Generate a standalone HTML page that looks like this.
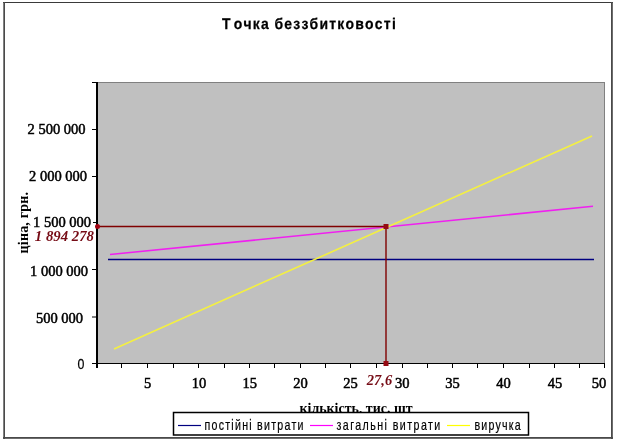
<!DOCTYPE html>
<html><head><meta charset="utf-8">
<style>
html,body{margin:0;padding:0;background:#fff;width:619px;height:443px;overflow:hidden}
svg{display:block;filter:blur(0.3px)}
.ser{font-family:"Liberation Serif",serif;font-weight:bold;font-size:14px;fill:#000}
.num{font-family:"Liberation Serif",serif;font-size:14.5px;fill:#000;stroke:#000;stroke-width:0.5}
.red{font-family:"Liberation Serif",serif;font-weight:bold;font-style:italic;font-size:14.5px;fill:#760c16}
.san{font-family:"Liberation Sans",sans-serif;font-size:14px;fill:#000;stroke:#000;stroke-width:0.2}
</style></head><body>
<svg width="619" height="443" viewBox="0 0 619 443">
<!-- frame -->
<rect x="3" y="2" width="610" height="1" fill="#3a3a3a"/>
<rect x="3.3" y="2" width="1.7" height="437" fill="#4a4a4a"/>
<rect x="611" y="2" width="1.8" height="437" fill="#4a4a4a"/>
<rect x="3" y="437" width="610" height="1.8" fill="#4a4a4a"/>
<!-- title -->
<text x="0" y="0" transform="translate(222,29.3) scale(0.9,1)" font-family="Liberation Sans, sans-serif" font-weight="bold" font-size="15.5" letter-spacing="1.37" stroke="#000" stroke-width="0.25" style="font-kerning:none;text-rendering:geometricPrecision">Т<tspan dx="2.2">очка </tspan><tspan dx="-0.8">беззбитковості</tspan></text>
<!-- plot area -->
<rect x="97" y="82" width="508" height="281" fill="#c0c0c0"/>
<line x1="97" y1="82.5" x2="605" y2="82.5" stroke="#808080" stroke-width="1"/>
<line x1="604.5" y1="82" x2="604.5" y2="363" stroke="#808080" stroke-width="1"/>
<!-- y axis -->
<rect x="96" y="82" width="2" height="286" fill="#000"/>
<g stroke="#000" stroke-width="1">
<line x1="92" y1="82.5" x2="96" y2="82.5"/>
<line x1="92" y1="129.5" x2="96" y2="129.5"/>
<line x1="92" y1="176.5" x2="96" y2="176.5"/>
<line x1="93" y1="222.5" x2="96" y2="222.5"/>
<line x1="92" y1="269.5" x2="96" y2="269.5"/>
<line x1="92" y1="317" x2="96" y2="317"/>
<line x1="92" y1="363.5" x2="96" y2="363.5"/>
</g>
<!-- x axis -->
<rect x="92" y="363" width="513" height="1" fill="#000"/>
<g fill="#000">
<rect x="96" y="364" width="1" height="4"/>
<rect x="121" y="364" width="1" height="4"/>
<rect x="147" y="364" width="1" height="4"/>
<rect x="173" y="364" width="1" height="4"/>
<rect x="198" y="364" width="1" height="4"/>
<rect x="224" y="364" width="1" height="4"/>
<rect x="249" y="364" width="1" height="4"/>
<rect x="274" y="364" width="1" height="4"/>
<rect x="300" y="364" width="1" height="4"/>
<rect x="325" y="364" width="1" height="4"/>
<rect x="350" y="364" width="1" height="4"/>
<rect x="376" y="364" width="1" height="4"/>
<rect x="402" y="364" width="1" height="4"/>
<rect x="427" y="364" width="1" height="4"/>
<rect x="452" y="364" width="1" height="4"/>
<rect x="477" y="364" width="1" height="4"/>
<rect x="503" y="364" width="1" height="4"/>
<rect x="529" y="364" width="1" height="4"/>
<rect x="554" y="364" width="1" height="4"/>
<rect x="579" y="364" width="1" height="4"/>
<rect x="604" y="364" width="1" height="4"/>
</g>
<!-- series -->
<line x1="108" y1="259.5" x2="594" y2="259.5" stroke="#000080" stroke-width="1.5"/>
<line x1="110" y1="254.5" x2="593" y2="206.3" stroke="#f020f0" stroke-width="1.6"/>
<line x1="114" y1="348.9" x2="592" y2="135.9" stroke="#f4f040" stroke-width="1.6"/>
<!-- drop lines -->
<line x1="97" y1="226.5" x2="386" y2="226.5" stroke="#800000" stroke-width="1.3"/>
<line x1="386" y1="226.5" x2="386" y2="363" stroke="#800000" stroke-width="1.4"/>
<rect x="383.5" y="224" width="5" height="5" fill="#960a12"/>
<rect x="383.5" y="361" width="5" height="5" fill="#960a12"/>
<circle cx="97.5" cy="226.5" r="2.5" fill="#a00010"/>
<!-- y labels -->
<g class="num" text-anchor="end">
<text x="85.5" y="134">2 500 000</text>
<text x="87" y="181">2 000 000</text>
<text x="91" y="227">1 500 000</text>
<text x="88" y="275.5">1 000 000</text>
<text x="83" y="323">500 000</text>
</g>
<text x="84.5" y="369.3" font-family="Liberation Sans, sans-serif" font-size="15.5" stroke="#000" stroke-width="0.25" text-anchor="end" transform="translate(84.5,369.3) scale(0.8,1) translate(-84.5,-369.3)">0</text>
<text class="red" x="94" y="240.5" text-anchor="end" style="font-size:14.8px">1 894 278</text>
<!-- x labels -->
<g class="num" text-anchor="middle">
<text x="147.5" y="388">5</text>
<text x="199" y="388">10</text>
<text x="249.7" y="388">15</text>
<text x="300.5" y="388">20</text>
<text x="350.5" y="388">25</text>
<text x="402.2" y="388">30</text>
<text x="452.5" y="388">35</text>
<text x="503.5" y="388">40</text>
<text x="555" y="388">45</text>
<text x="599" y="388">50</text>
</g>
<text class="red" x="379.5" y="384.5" text-anchor="middle">27,6</text>
<!-- axis titles -->
<text class="ser" x="0" y="0" text-anchor="middle" style="font-size:15px" transform="translate(356,412.5) scale(0.93,1)">кількість, тис. шт</text>
<text class="ser" x="0" y="0" text-anchor="middle" style="font-size:14px" letter-spacing="0.2" transform="translate(28.2,222.6) rotate(-90)">ціна, грн.</text>
<!-- legend -->
<rect x="173.5" y="412.5" width="355" height="22.5" fill="#fff" stroke="#000" stroke-width="1.5"/>
<line x1="178" y1="425.5" x2="201" y2="425.5" stroke="#000080" stroke-width="1.2"/>
<line x1="310" y1="425.5" x2="333" y2="425.5" stroke="#ff00ff" stroke-width="1.2"/>
<line x1="447" y1="425.5" x2="470" y2="425.5" stroke="#ffff00" stroke-width="1.2"/>
<g class="san">
<text transform="translate(204.5,429.8) scale(0.76,1)" letter-spacing="1.65">постійні витрати</text>
<text transform="translate(336.5,429.8) scale(0.76,1)" letter-spacing="1.9">загальні витрати</text>
<text transform="translate(474.5,429.8) scale(0.76,1)" letter-spacing="1.56">виручка</text>
</g>
</svg>
</body></html>
